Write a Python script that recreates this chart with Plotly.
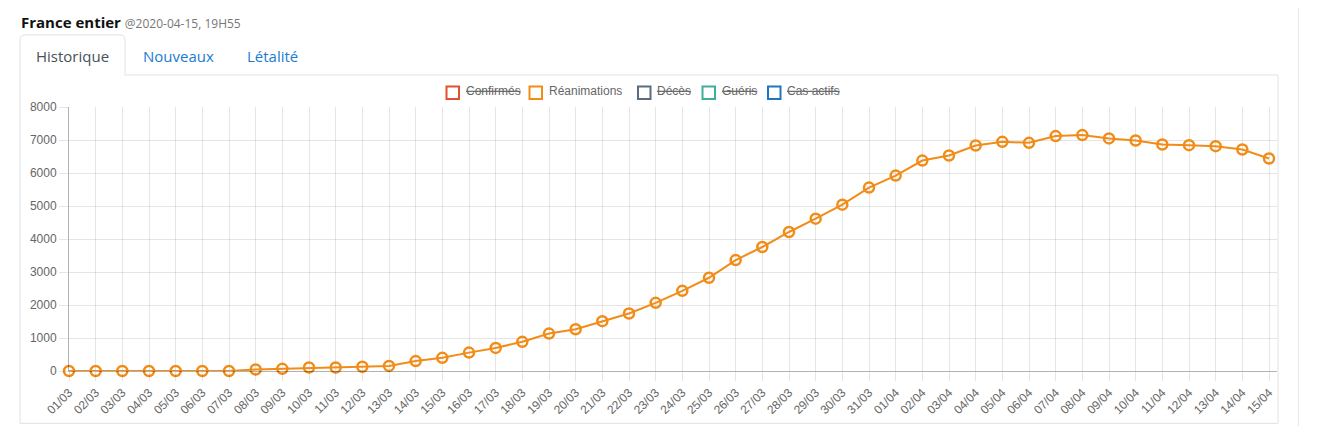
import plotly.graph_objects as go

# ---------------- data ----------------
dates = ["01/03", "02/03", "03/03", "04/03", "05/03", "06/03", "07/03", "08/03", "09/03", "10/03",
         "11/03", "12/03", "13/03", "14/03", "15/03", "16/03", "17/03", "18/03", "19/03", "20/03",
         "21/03", "22/03", "23/03", "24/03", "25/03", "26/03", "27/03", "28/03", "29/03", "30/03",
         "31/03", "01/04", "02/04", "03/04", "04/04", "05/04", "06/04", "07/04", "08/04", "09/04",
         "10/04", "11/04", "12/04", "13/04", "14/04", "15/04"]
reanimations = [0, 0, 0, 0, 0, 0, 0, 45, 66, 105,
                105, 129, 154, 300, 400, 557, 699, 885, 1135, 1266,
                1509, 1743, 2066, 2430, 2825, 3362, 3757, 4212, 4616, 5041,
                5557, 5922, 6377, 6529, 6833, 6945, 6915, 7118, 7148, 7047,
                6986, 6864, 6844, 6814, 6712, 6439]
series_names = ["Confirmés", "Réanimations", "Décès", "Guéris", "Cas actifs"]
series_colors = ["#e0522f", "#f28c18", "#5b6b82", "#3fae9c", "#1f74c4"]
series_hidden = [True, False, True, True, True]
y_ticks = [0, 1000, 2000, 3000, 4000, 5000, 6000, 7000, 8000]

# ---------------- layout constants (page pixels, body has 8px margin) ----------------
OFF = 8
W, H = 1321, 418
L = 69 - OFF
T = 107 - OFF
PLOT_R = 1277 - OFF
PLOT_B = 370.7 - OFF
R = W - PLOT_R
B = H - PLOT_B
PW, PH = W - L - R, H - T - B


def px(x):
    return (x - OFF - L) / PW


def py(y):
    return 1 - (y - OFF - T) / PH


fig = go.Figure()
fig.add_trace(go.Scatter(
    x=list(range(len(dates))), y=reanimations, mode="lines+markers",
    name=series_names[1],
    line=dict(color=series_colors[1], width=2),
    marker=dict(symbol="circle", size=10, color="rgba(255,255,255,0)",
                line=dict(color=series_colors[1], width=2.5)),
    cliponaxis=False, showlegend=False,
))

grid = "rgba(0,0,0,0.1)"
axis_c = "rgba(0,0,0,0.3)"
tickfont = dict(family="Liberation Sans, Arial, sans-serif", size=12, color="#666")
step_px = (1269 - 69) / (len(dates) - 1)

fig.update_xaxes(
    range=[0, (PLOT_R + OFF - 69) / step_px],
    tickmode="array", tickvals=list(range(len(dates))), ticktext=dates,
    tickangle=-45, tickfont=tickfont,
    showgrid=True, gridcolor=grid, gridwidth=1,
    ticks="outside", ticklen=9, tickcolor=grid,
    showline=True, linecolor=axis_c, linewidth=1,
    zeroline=False, automargin=False,
)
fig.update_yaxes(
    range=[0, 8000], tickmode="array", tickvals=y_ticks,
    ticktext=[str(v) for v in y_ticks], tickfont=tickfont,
    showgrid=True, gridcolor=grid, gridwidth=1,
    ticks="outside", ticklen=9, tickcolor=grid,
    showline=True, linecolor=axis_c, linewidth=1,
    zeroline=False, automargin=False,
)

shapes = []
annotations = []

# container + tabs outline
path = (f"M {px(20)},{py(423)} L {px(20)},{py(40)} "
        f"Q {px(20)},{py(35)} {px(25)},{py(35)} L {px(120)},{py(35)} "
        f"Q {px(125)},{py(35)} {px(125)},{py(40)} L {px(125)},{py(75)} "
        f"L {px(1278)},{py(75)} L {px(1278)},{py(423)} Z")
shapes.append(dict(type="path", xref="paper", yref="paper", path=path,
                   line=dict(color="#dee2e6", width=1), fillcolor="rgba(0,0,0,0)", layer="below"))
# right page line
shapes.append(dict(type="line", xref="paper", yref="paper", x0=px(1298.5), x1=px(1298.5),
                   y0=py(0), y1=py(426), line=dict(color="#e6e6e6", width=1)))

page_font = "Open Sans, Noto Sans, sans-serif"
annotations.append(dict(
    xref="paper", yref="paper", x=px(19), y=py(22), xanchor="left", yanchor="middle",
    text="<b>France entier</b> <span style='font-size:12px;color:#777'>@2020-04-15, 19H55</span>",
    showarrow=False, font=dict(family=page_font, size=15, color="#111")))
for label, cx, col in [("Historique", 72.5, "#495057"), ("Nouveaux", 178, "#1a7bd4"), ("Létalité", 272, "#1a7bd4")]:
    annotations.append(dict(xref="paper", yref="paper", x=px(cx), y=py(56), xanchor="center",
                            yanchor="middle", text=label, showarrow=False,
                            font=dict(family=page_font, size=15, color=col)))

# legend
legend_x = [446.5, 529.5, 638, 702.5, 768]
for name, col, hid, lx in zip(series_names, series_colors, series_hidden, legend_x):
    shapes.append(dict(type="rect", xref="paper", yref="paper",
                       x0=px(lx), x1=px(lx + 12.5), y0=py(86.5), y1=py(99),
                       line=dict(color=col, width=2), fillcolor="white"))
    annotations.append(dict(xref="paper", yref="paper", x=px(lx + 17), y=py(91.5),
                            xanchor="left", yanchor="middle",
                            text=f"<s>{name}</s>" if hid else name, showarrow=False,
                            font=dict(family="Liberation Sans, Arial, sans-serif", size=12, color="#666")))

fig.update_layout(
    width=W, height=H, margin=dict(l=L, r=R, t=T, b=B, pad=0),
    paper_bgcolor="white", plot_bgcolor="white",
    shapes=shapes, annotations=annotations, showlegend=False,
)

fig.write_html("out.html")
